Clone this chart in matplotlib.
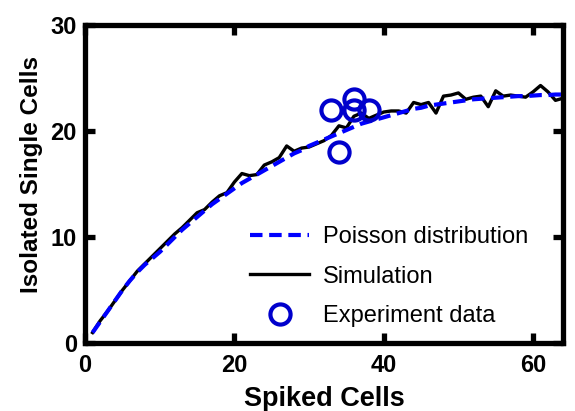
import numpy as np
from matplotlib import pyplot as plt

plt.rcParams['font.family'] = ['Liberation Sans', 'DejaVu Sans']

# spiked cells (x) for the model curves
spiked = list(range(1, 65))

# Poisson distribution prediction
poisson = [1.0, 2.0, 3.0, 4.0, 5.0, 5.9, 6.7, 7.4, 8.0, 8.6,
           9.3, 10.0, 10.7, 11.3, 11.9, 12.5, 13.1, 13.6, 14.1, 14.6,
           15.1, 15.5, 15.9, 16.3, 16.7, 17.1, 17.5, 17.9, 18.2, 18.6,
           18.9, 19.2, 19.5, 19.8, 20.1, 20.4, 20.7, 20.9, 21.1, 21.3,
           21.5, 21.7, 21.9, 22.1, 22.2, 22.4, 22.5, 22.6, 22.7, 22.8,
           22.9, 23.0, 23.05, 23.1, 23.15, 23.2, 23.25, 23.3, 23.3, 23.35,
           23.4, 23.4, 23.45, 23.45]

# simulation result
simulation = [1.0, 2.1, 3.0, 4.0, 5.0, 5.9, 6.8, 7.5, 8.2, 8.9,
              9.6, 10.3, 10.9, 11.6, 12.3, 12.6, 13.3, 13.9, 14.2, 15.2,
              16.0, 15.8, 15.9, 16.8, 17.1, 17.5, 18.6, 18.1, 18.4, 18.5,
              18.8, 19.1, 19.6, 20.5, 20.3, 21.4, 21.7, 21.2, 21.5, 21.8,
              21.9, 21.9, 21.7, 22.7, 22.5, 22.7, 21.7, 23.3, 23.4, 23.6,
              23.0, 23.2, 23.3, 22.3, 23.8, 23.3, 23.4, 23.3, 23.2, 23.7,
              24.3, 23.7, 22.9, 23.1]

# experiment data
exp_x = [33, 34, 36, 36, 38]
exp_y = [22, 18, 23, 22, 22]

fig = plt.figure(figsize=(5.75, 4.11), dpi=100)
ax = fig.add_axes([0.148, 0.165, 0.831, 0.774])

ax.plot(spiked, poisson, '--', color='#0000ff', lw=3.0, dashes=(3, 1.6),
        label='Poisson distribution', zorder=3)
ax.plot(spiked, simulation, '-', color='black', lw=2.4,
        label='Simulation', zorder=2)
ax.plot(exp_x, exp_y, 'o', mfc='none', mec='#0000cc', mew=3.0, ms=14.5,
        label='Experiment data', zorder=4)

ax.set_xlim(0, 64)
ax.set_ylim(0, 30)
ax.set_xticks([0, 20, 40, 60])
ax.set_yticks([0, 10, 20, 30])

for s in ax.spines.values():
    s.set_linewidth(3.8)
ax.tick_params(direction='in', length=7, width=3.8, top=True, right=True,
               labelsize=17)
ax.tick_params(axis='x', pad=8)
ax.tick_params(axis='y', pad=6)
for lab in ax.get_xticklabels() + ax.get_yticklabels():
    lab.set_fontweight('bold')

ax.set_xlabel('Spiked Cells', fontsize=19.5, fontweight='bold', labelpad=6)
ax.set_ylabel('Isolated Single Cells', fontsize=17.5, fontweight='bold')
ax.yaxis.set_label_coords(-0.088, 0.53)

leg = ax.legend(loc='upper left', bbox_to_anchor=(0.435, 0.45),
                bbox_transform=fig.transFigure, frameon=False,
                fontsize=17, handlelength=2.5, handletextpad=0.6,
                labelspacing=0.75, borderpad=0, borderaxespad=0)

fig.savefig('out.png', dpi=100)
